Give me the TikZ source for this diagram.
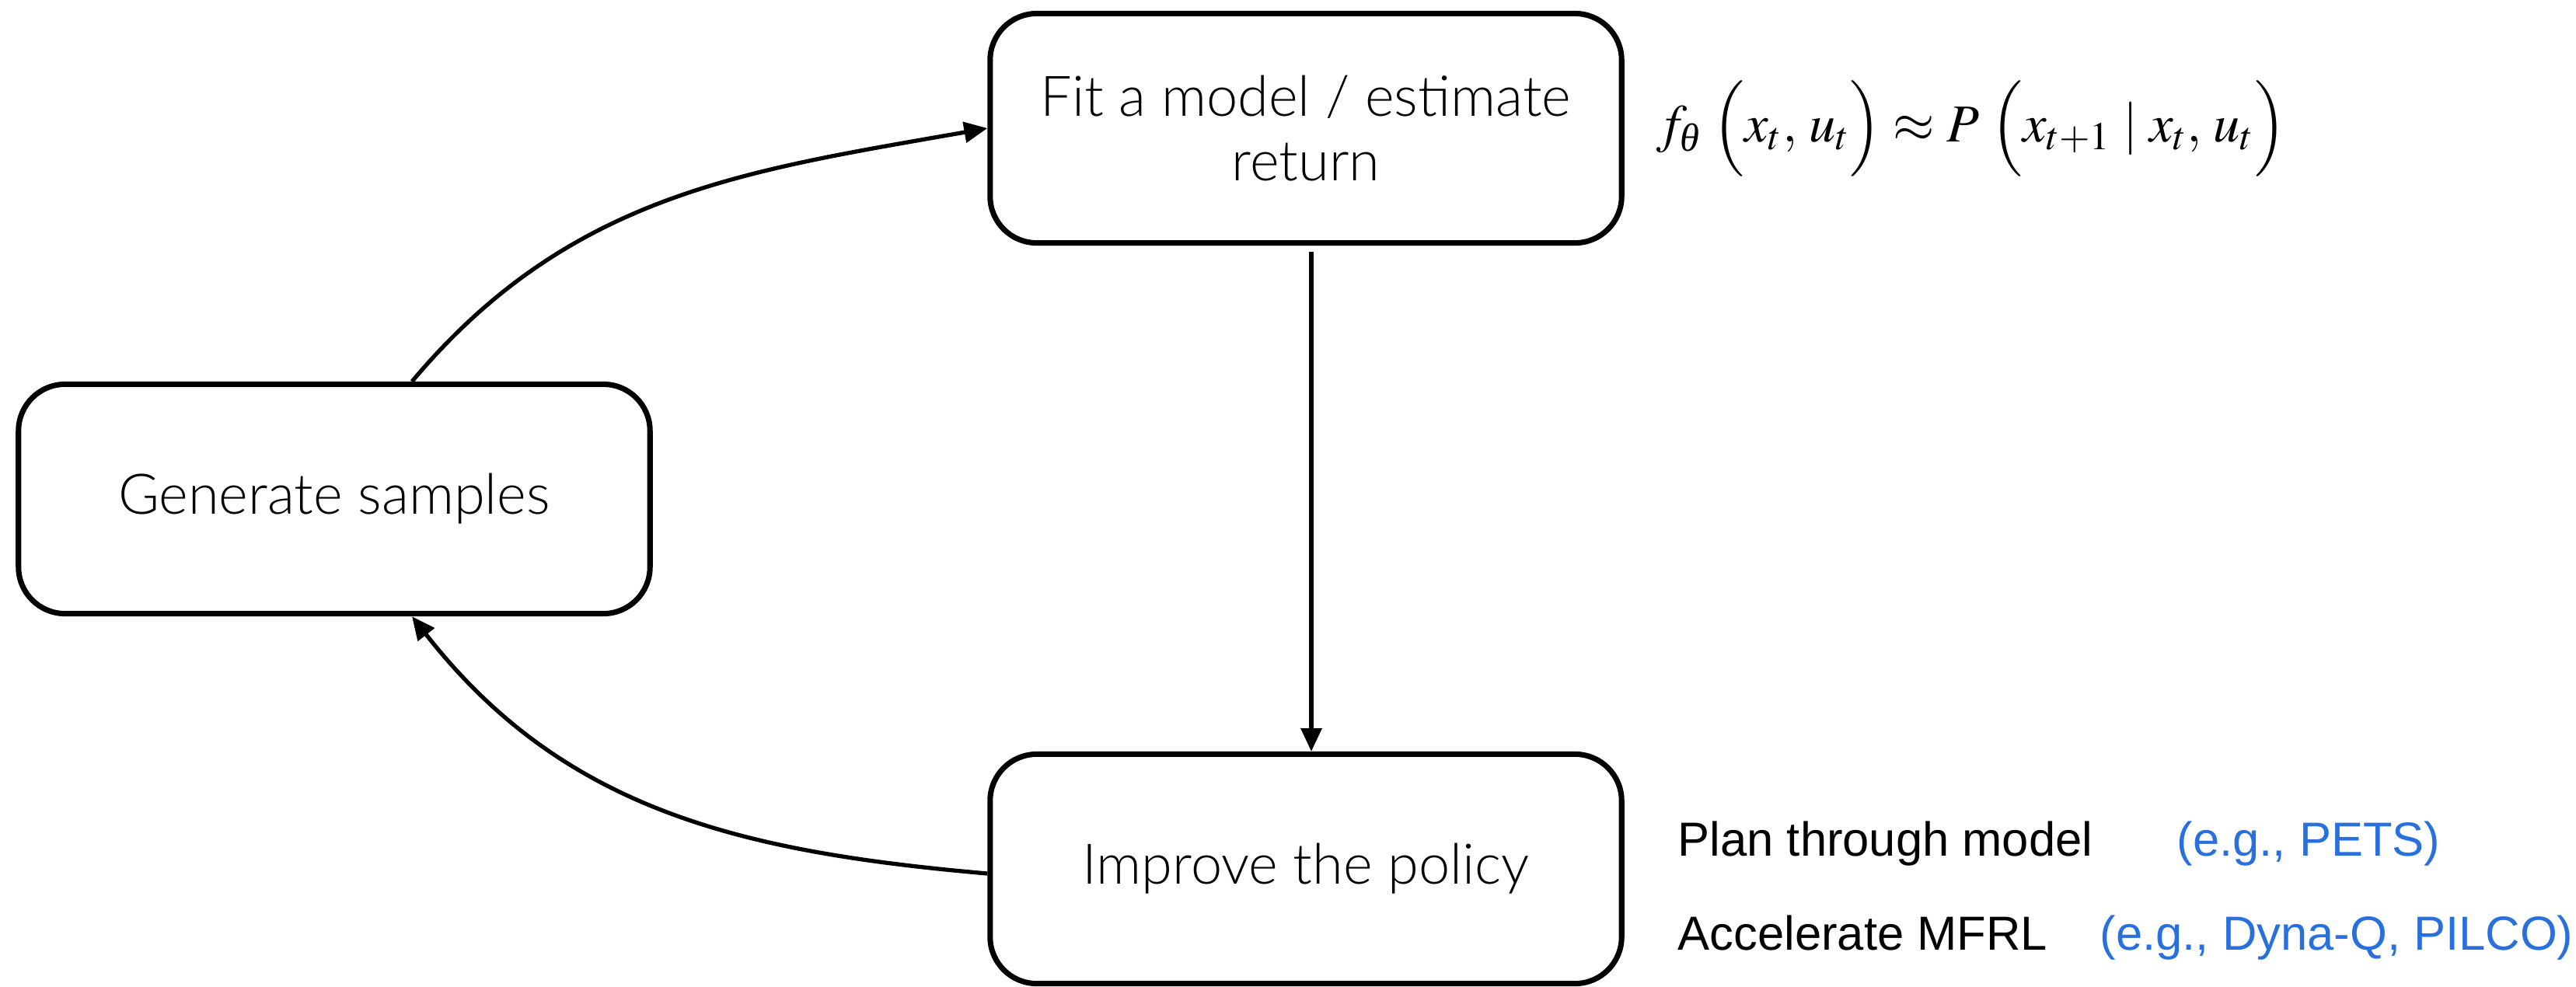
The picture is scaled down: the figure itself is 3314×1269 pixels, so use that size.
\documentclass[tikz,border=0pt]{standalone}
\usepackage{mathptmx}
\usepackage{amsmath}
\usepackage{fontspec}
\setmainfont{Liberation Sans}
\newfontfamily\lightfont{Lato Light}
\newfontfamily\tmit{Liberation Serif}
\usetikzlibrary{arrows.meta,calc}
\definecolor{egblue}{RGB}{40,112,220}
\begin{document}
\begin{tikzpicture}[x=0.01cm,y=-0.01cm,
  stage/.style={draw, line width=2pt, rounded corners=0.6cm, minimum width=8.12cm,
    minimum height=2.95cm, align=center, inner sep=0pt,
    font=\lightfont\fontsize{20.5}{23.5}\selectfont},
  flow/.style={line width=1.5pt, -{Triangle[length=8.5pt,width=7.5pt]}},
  note/.style={anchor=base west, inner sep=0pt, font=\fontsize{17.5}{20}\selectfont},
  eg/.style={note, text=egblue}]
\useasboundingbox (0,0) rectangle (3314,1269);
\node[stage] (fit) at (1680,165) {Fit a model / estimate\\return};
\node[stage] (gen) at (430,642) {Generate samples};
\node[stage] (pol) at (1680,1118) {Improve the policy};
\node[anchor=west, inner sep=0pt, font=\fontsize{19.5}{24}\selectfont] (eq) at (2130,165)
  {$f_{\text{\tmit\itshape θ}}\;\Bigl(x_t,\, u_t\Bigr) \approx P\;\Bigl(x_{t+1} \mid x_t,\, u_t\Bigr)$};
\node[note] (plan) at (2158,1101) {Plan through model};
\node[eg] (pets) at (2800,1101) {(e.g., PETS)};
\node[note] (acc) at (2158,1222) {Accelerate MFRL};
\node[eg] (dyna) at (2701,1222) {(e.g., Dyna-Q, PILCO)};
\draw[flow] ($(gen.north)+(100,0)$) to[out=50, in=190] (fit.west);
\draw[flow] ($(fit.south)+(7,8)$) -- ($(pol.north)+(7,0)$);
\draw[flow] ($(pol.west)+(0,6)$) to[out=175, in=-52] ($(gen.south)+(100,0)$);
\end{tikzpicture}
\end{document}
